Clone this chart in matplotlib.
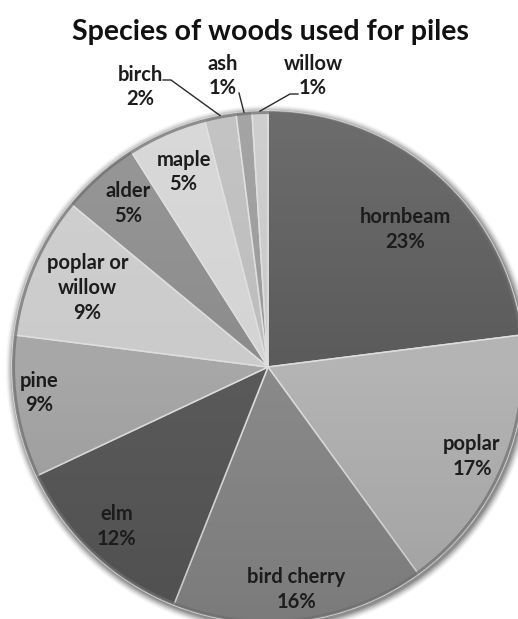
import numpy as np
import matplotlib
matplotlib.use("Agg")
import matplotlib.pyplot as plt
from matplotlib.patches import Circle

# ---- data -------------------------------------------------------------
title = "Species of woods used for piles"
species = ["hornbeam", "poplar", "bird cherry", "elm", "pine",
           "poplar or\nwillow", "alder", "maple", "birch", "ash", "willow"]
shares = [23, 17, 16, 12, 9, 9, 5, 5, 2, 1, 1]

# ---- style ------------------------------------------------------------
colors = ["#5b5b5b", "#b4b4b4", "#8a8a8a", "#5a5a5a", "#a7a7a7", "#cbcbcb",
          "#8c8c8c", "#d4d4d4", "#bdbdbd", "#9a9a9a", "#c9c9c9"]
# inside labels: radial fraction and angular nudge (degrees)
inside_pos = {0: (0.76, -3.5), 1: (0.87, -0.3), 2: (0.875, 0.0),
              3: (0.86, -0.3), 4: (0.90, -2.5), 5: (0.77, -0.3),
              6: (0.84, -0.9), 7: (0.83, 0.0)}
FONT = ["Lato", "DejaVu Sans"]
LABEL_SIZE = 14.5
LINESP = 1.3

W, H = 518, 619
fig = plt.figure(figsize=(W / 100, H / 100), dpi=100)
ax = fig.add_axes([0, 0, 1, 1])

cx, cy, R = 268, H - 367, 256

# soft drop shadow around the rim
for k, a in zip(range(8, 0, -1), np.linspace(0.02, 0.12, 8)):
    ax.add_patch(Circle((cx + 1.5, cy - 2), R + k, color="black", alpha=a,
                        lw=0, zorder=0))

wedges, _ = ax.pie(shares, colors=colors, startangle=90, counterclock=False,
                   center=(cx, cy), radius=R, frame=True,
                   wedgeprops=dict(edgecolor="#dedede", linewidth=1.1))
for w in wedges:
    w.set_zorder(1)

# vertical shading over the disc
yy = np.linspace(0, 1, 300)[:, None]
shade = np.zeros((300, 2, 4))
shade[..., :3] = np.where(yy[..., None] < 0.5, 1.0, 0.0)
shade[..., 3] = (np.abs(yy - 0.5) * 0.22)
img = ax.imshow(shade, extent=(cx - R, cx + R, cy - R, cy + R),
                origin="upper", aspect="auto", zorder=2, interpolation="bilinear")
clip = Circle((cx, cy), R, transform=ax.transData)
img.set_clip_path(clip)

# darker rim
ax.add_patch(Circle((cx, cy), R - 1.5, fill=False, ec="#6e6e6e", lw=2.2,
                    alpha=0.7, zorder=3))

# inside labels
for i, w in enumerate(wedges):
    if i not in inside_pos:
        continue
    frac, nudge = inside_pos[i]
    ang = np.deg2rad((w.theta1 + w.theta2) / 2 + nudge)
    ax.text(cx + frac * R * np.cos(ang), cy + frac * R * np.sin(ang),
            f"{species[i]}\n{shares[i]}%", ha="center", va="center",
            fontsize=LABEL_SIZE, fontweight="bold", family=FONT,
            color="#1c1c1c", linespacing=LINESP, zorder=5)

# outside labels with leader lines for the thin slices
outside = {8: ((140, H - 87), [(163, H - 80), (171, H - 80)]),
           9: ((223, H - 76), [(239, H - 93)]),
           10: ((313, H - 76), [(298, H - 94), (290, H - 94)])}
for i, (txt_xy, pts) in outside.items():
    w = wedges[i]
    ang = np.deg2rad((w.theta1 + w.theta2) / 2)
    edge = (cx + R * np.cos(ang), cy + R * np.sin(ang))
    xs = [p[0] for p in pts] + [edge[0]]
    ys = [p[1] for p in pts] + [edge[1]]
    ax.plot(xs, ys, color="#2a2a2a", lw=1.0, zorder=6)
    ax.text(*txt_xy, f"{species[i]}\n{shares[i]}%", ha="center", va="center",
            fontsize=LABEL_SIZE, fontweight="bold", family=FONT,
            color="#1c1c1c", linespacing=LINESP, zorder=6)

ax.text(270, H - 32, title, ha="center", va="center", fontsize=20.5,
        fontweight="bold", family=FONT, color="#111111")

ax.set_xlim(0, W)
ax.set_ylim(0, H)
ax.set_aspect("auto")
ax.axis("off")
fig.savefig("out.png", dpi=100, facecolor="white")
